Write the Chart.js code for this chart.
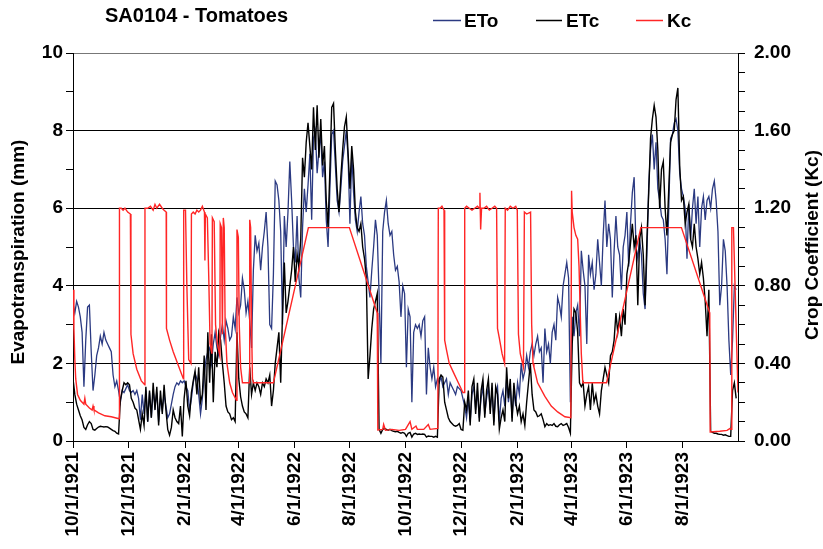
<!DOCTYPE html>
<html><head><meta charset="utf-8">
<script src="https://cdn.jsdelivr.net/npm/chart.js@4.4.0/dist/chart.umd.min.js"></script>
<style>html,body{margin:0;padding:0;background:#fff;}canvas{display:block;}</style>
</head><body>
<canvas id="c" width="823" height="549"></canvas>
<script>
// ---- data (daily series sampled every 2 days, day 0 = 10/1/1921) ----
const STEP_DAYS = 2;
const chartTitle = 'SA0104 - Tomatoes';
const seriesNames = ['ETo', 'ETc', 'Kc'];
const etoValues = [
3.55,3.3,3.6,3.45,3.2,2.8,1.4,2.6,3.45,3.5,
2.3,1.3,1.7,2.2,2.4,2.7,2.5,2.8,2.6,2.5,
2.4,2.3,1.7,1.4,1.55,1.3,1.0,1.3,1.25,1.35,
1.45,1.3,1.25,1.3,1.2,1.3,1.1,0.55,1.2,0.7,
1.3,0.5,1.25,0.6,1.3,0.9,1.25,0.5,1.1,0.8,
1.2,0.9,0.6,0.7,0.95,1.2,1.4,1.5,1.45,1.55,
1.5,1.55,1.4,1.3,0.8,1.1,1.5,1.75,1.6,1.2,
0.7,1.1,1.7,2.1,2.3,2.4,2.0,2.5,2.8,2.4,
2.2,2.7,3.0,2.6,3.1,2.9,2.6,2.7,3.2,2.9,
3.7,3.3,3.5,4.2,3.9,3.3,3.6,3.1,2.4,4.4,
5.3,4.9,5.1,4.4,5.0,5.4,5.9,5.0,3.0,2.9,
4.3,6.7,6.6,6.2,5.4,3.0,5.8,5.0,5.9,7.2,
6.2,5.0,4.6,5.8,4.2,3.7,5.5,6.5,5.9,6.6,
7.4,5.7,7.8,8.0,6.9,7.5,7.9,6.8,7.2,5.7,
5.0,6.5,7.9,8.0,7.1,6.2,5.9,6.5,7.2,7.6,
8.0,7.3,5.6,7.4,6.4,5.7,5.4,5.9,6.3,5.6,
5.3,4.5,4.1,3.7,4.4,5.0,5.7,5.3,3.8,2.0,
5.4,5.9,6.2,5.6,5.3,5.4,4.8,4.4,4.5,4.1,
3.2,4.0,3.8,1.9,3.4,3.2,1.0,2.8,3.0,2.9,
3.0,2.7,3.1,3.2,1.2,2.4,1.9,1.6,1.9,1.4,
1.6,1.5,1.65,1.4,1.5,1.6,1.2,1.5,1.4,1.3,
1.2,1.4,1.35,1.3,1.1,0.9,0.6,1.1,0.5,1.2,
1.4,0.8,1.3,0.6,1.1,1.4,0.7,1.1,1.4,0.8,
1.3,0.5,1.2,1.4,0.5,1.1,1.3,0.9,1.6,1.0,
1.4,0.6,1.3,0.9,1.5,1.2,2.0,1.6,1.8,2.2,
1.9,2.3,2.5,2.2,2.5,2.7,2.3,2.4,1.5,2.9,
2.3,2.5,2.0,2.8,3.0,2.6,3.7,3.5,3.2,4.0,
4.3,4.6,4.2,1.0,3.2,2.7,3.3,3.5,2.7,4.9,
4.4,4.0,2.5,4.8,4.3,4.6,3.9,4.3,5.2,4.6,
4.0,5.3,6.2,5.0,5.6,5.2,3.7,4.9,5.8,5.0,
4.8,3.9,5.0,5.3,5.9,4.5,5.6,6.4,6.8,5.0,
4.7,5.2,4.8,3.8,3.4,4.8,6.6,7.5,7.9,7.0,
7.7,6.5,6.2,5.8,5.7,5.2,4.3,6.0,7.8,7.9,
8.2,8.3,8.0,6.9,6.5,6.3,6.0,4.7,6.1,5.2,
6.0,6.5,5.6,6.3,5.0,6.0,6.3,5.7,6.2,6.3,
6.0,6.5,6.7,6.2,5.4,3.5,4.0,5.2,4.9,4.0,
2.6,1.7,2.6,4.0,3.9
];
const etcValues = [
1.6,1.2,0.95,0.8,0.65,0.54,0.35,0.3,0.42,0.5,
0.45,0.3,0.28,0.32,0.36,0.38,0.37,0.36,0.37,0.36,
0.33,0.3,0.27,0.25,0.2,0.18,1.06,1.3,1.5,1.45,
1.5,1.45,1.1,1.0,0.85,0.8,0.55,0.3,0.7,0.4,
1.4,0.5,1.3,0.6,1.5,0.8,1.4,0.4,1.3,0.7,
1.45,0.8,0.3,0.15,0.35,0.8,0.6,0.5,0.45,0.9,
0.12,1.1,1.55,0.9,0.65,1.25,1.55,1.8,1.2,1.9,
1.0,1.2,2.2,0.8,2.8,1.5,2.75,1.0,2.3,1.9,
2.8,2.6,2.0,1.5,0.9,0.75,0.7,0.55,0.6,0.5,
2.8,1.6,1.14,0.9,0.75,0.7,0.6,1.9,1.2,1.5,
1.3,1.5,1.4,1.2,1.5,1.4,1.6,1.5,1.7,0.9,
1.3,2.0,2.4,2.8,1.5,3.3,4.6,3.3,3.6,4.0,
4.4,5.0,4.1,4.8,4.5,5.2,7.3,6.8,7.7,8.2,
7.6,7.0,8.6,7.5,8.65,7.3,8.3,7.1,7.6,6.2,
5.5,7.0,8.6,8.7,7.5,6.5,5.9,6.8,7.5,8.1,
8.35,7.4,6.5,7.6,7.0,5.9,5.5,5.4,5.6,5.0,
4.7,4.2,1.6,2.2,2.9,3.4,3.6,3.8,0.3,0.2,
0.3,0.32,0.3,0.28,0.3,0.27,0.25,0.24,0.25,0.22,
0.2,0.22,0.2,0.12,0.2,0.22,0.1,0.18,0.2,0.17,
0.18,0.17,0.18,0.17,0.1,0.13,0.12,0.12,0.1,0.12,
0.1,1.6,1.7,1.65,1.0,0.8,0.6,0.5,0.45,0.4,
0.38,0.4,0.45,0.3,0.28,1.0,0.8,1.3,0.4,1.4,
1.6,0.7,1.5,0.5,1.3,1.6,0.6,1.3,1.6,0.7,
1.5,0.4,1.4,1.2,0.3,0.6,0.8,0.5,1.9,1.1,
1.6,0.5,1.5,1.0,0.7,0.9,0.5,0.7,0.4,1.0,
1.5,2.0,1.2,0.8,0.75,0.63,0.65,0.7,0.55,0.37,
0.45,0.4,0.42,0.4,0.45,0.38,0.37,0.42,0.45,0.4,
0.42,0.45,0.35,0.2,2.5,3.4,3.3,2.8,1.5,1.4,
1.5,0.9,1.2,1.4,0.8,1.5,1.0,1.2,0.9,0.7,
1.3,1.6,1.9,1.7,1.5,2.2,2.3,2.6,3.3,2.8,
3.2,2.7,3.4,3.0,4.3,4.6,5.1,5.6,5.0,5.3,
3.5,5.2,5.5,4.8,3.5,5.2,6.4,7.8,8.3,8.65,
8.35,7.5,6.0,7.0,7.2,6.0,5.3,6.5,7.7,7.9,
8.0,8.8,9.1,7.1,6.2,6.3,5.6,5.9,6.1,5.2,
5.0,5.6,5.0,4.7,4.3,4.6,4.2,3.6,2.7,3.9,
0.25,0.22,0.2,0.2,0.18,0.17,0.17,0.15,0.16,0.14,
0.12,0.12,1.3,1.5,1.1
];
const kcDays = [
0,1,2,3,5,8,12,13,14,18,21,22,23,28,35,42,50.5,
51,53,55,57,60,63,63.6,66,70,75,78.8,
79,82,85,88,90,92,95,98,100,102.3,102.6,106,110,114,118,121.2,
121.5,123.5,125,127,129.5,130,132,134,136,138,140,142,144.3,144.8,145.3,147.5,149,150.5,152.5,
153,155,156.5,158.5,161.2,161.6,163,164,165,166,167,169,172,175,179.5,
180,181.5,182.5,184,186,193.5,194,195,196,197,198,220,258.4,303.4,334,
334.6,340,341,343,350,358,365,370,372,376.5,378,385,390,392,400.5,
401,403,405,407.3,408,410,413,418,423,428,429.5,
430,432,435,438,441,444,446,446.7,447.5,448.5,451,454,457,460,463,465,466,468,471,473.8,
474.5,477,480,483,486,487.7,489,491,494.5,495.5,498,502.3,503.5,505,506,510,518,525,532,540,546.5,
547.3,548,550,552,554,555.5,558,559.7,585.7,623.3,667.9,699,
699.5,710,718,721,722.5,723.2,725,730
];
const kcValues = [
0.78,0.58,0.42,0.32,0.24,0.21,0.19,0.22,0.19,0.17,0.16,0.18,0.16,0.145,0.13,0.125,0.115,
1.2,1.2,1.19,1.2,1.18,1.17,0.55,0.45,0.37,0.31,0.29,
1.2,1.2,1.21,1.19,1.22,1.2,1.22,1.2,1.19,1.18,0.58,0.52,0.46,0.41,0.36,0.32,
1.19,1.19,0.8,0.42,0.4,1.17,1.18,1.17,1.19,1.18,1.19,1.21,1.18,0.93,1.17,1.15,0.85,0.5,0.45,
1.15,1.13,0.6,0.5,0.44,1.12,1.1,0.55,1.15,1.1,0.6,0.4,0.3,0.25,0.21,
1.09,1.05,0.6,0.38,0.3,0.3,1.14,1.1,0.6,0.32,0.3,0.3,1.1,1.1,0.66,
0.057,0.06,0.085,0.055,0.06,0.055,0.06,0.1,0.06,0.077,0.06,0.06,0.085,0.06,0.065,
1.2,1.2,1.21,1.19,0.52,0.47,0.4,0.35,0.3,0.25,0.25,
1.2,1.21,1.2,1.19,1.2,1.21,1.2,1.28,1.09,1.2,1.2,1.21,1.19,1.2,1.21,1.2,0.58,0.53,0.45,0.4,
1.2,1.19,1.21,1.2,1.21,1.19,0.55,0.45,0.38,1.18,1.17,1.18,0.6,0.4,0.38,0.3,0.23,0.18,0.15,0.125,0.12,
1.29,1.18,1.1,1.06,1.04,0.9,0.45,0.3,0.3,1.1,1.1,0.66,
0.047,0.05,0.055,0.064,0.06,1.1,1.1,0.25
];
const dateTickDays = [0,61,123,182,243,304,365,426,488,547,608,669];
const dateTickLabels = ['10/1/1921','12/1/1921','2/1/1922','4/1/1922','6/1/1922','8/1/1922',
                        '10/1/1922','12/1/1922','2/1/1923','4/1/1923','6/1/1923','8/1/1923'];
const etTicks = [0,1,2,3,4,5,6,7,8,9,10];
const kcTicks = [0,0.1,0.2,0.3,0.4,0.5,0.6,0.7,0.8,0.9,1.0,1.1,1.2,1.3,1.4,1.5,1.6,1.7,1.8,1.9,2.0];
const kcLabelledTicks = [0,0.4,0.8,1.2,1.6,2.0];
const leftAxisTitle = 'Evapotranspiration (mm)';
const rightAxisTitle = 'Crop Coefficient (Kc)';

// ---- styles ----
const FONT_FAMILY = '"Liberation Sans", Arial, Helvetica, sans-serif';
const COL_ETO = '#2b3a82';
const COL_ETC = '#000000';
const COL_KC = '#ff2626';
const tickFont = {family: FONT_FAMILY, size: 19, weight: 'bold'};

const decor = {
  id: 'decor',
  afterDraw(chart) {
    const ctx = chart.ctx;
    ctx.save();
    ctx.fillStyle = '#000';
    ctx.textAlign = 'left';
    ctx.textBaseline = 'alphabetic';
    ctx.font = 'bold 20px ' + FONT_FAMILY;
    ctx.fillText(chartTitle, 105, 22);
    // legend
    ctx.font = 'bold 19px ' + FONT_FAMILY;
    const items = [
      {name: seriesNames[0], color: COL_ETO, x0: 433, x1: 461, tx: 464},
      {name: seriesNames[1], color: COL_ETC, x0: 536, x1: 562, tx: 566},
      {name: seriesNames[2], color: COL_KC, x0: 636, x1: 663, tx: 667}
    ];
    items.forEach(it => {
      ctx.strokeStyle = it.color;
      ctx.lineWidth = 1.5;
      ctx.beginPath();
      ctx.moveTo(it.x0, 20.5);
      ctx.lineTo(it.x1, 20.5);
      ctx.stroke();
      ctx.fillText(it.name, it.tx, 27);
    });
    // axis titles
    ctx.textAlign = 'center';
    ctx.textBaseline = 'middle';
    ctx.save();
    ctx.translate(19, 252);
    ctx.rotate(-Math.PI / 2);
    ctx.fillText(leftAxisTitle, 0, 0);
    ctx.restore();
    ctx.save();
    ctx.translate(813, 245);
    ctx.rotate(-Math.PI / 2);
    ctx.fillText(rightAxisTitle, 0, 0);
    ctx.restore();
    ctx.restore();
  }
};

const toPoints = (vals) => vals.map((v, i) => ({x: i * STEP_DAYS, y: v}));
const kcPoints = kcDays.map((d, i) => ({x: d, y: kcValues[i]}));

new Chart(document.getElementById('c'), {
  type: 'line',
  data: {
    datasets: [
      {label: 'Kc', data: kcPoints, yAxisID: 'y2', borderColor: COL_KC, borderWidth: 1.4, pointRadius: 0, tension: 0},
      {label: 'ETc', data: toPoints(etcValues), yAxisID: 'y', borderColor: COL_ETC, borderWidth: 1.4, pointRadius: 0, tension: 0},
      {label: 'ETo', data: toPoints(etoValues), yAxisID: 'y', borderColor: COL_ETO, borderWidth: 1.3, pointRadius: 0, tension: 0}
    ]
  },
  options: {
    responsive: false,
    animation: false,
    devicePixelRatio: 1,
    layout: {padding: {top: 53, left: 0, right: 0, bottom: 0}},
    plugins: {legend: {display: false}, tooltip: {enabled: false}, title: {display: false}},
    scales: {
      x: {
        type: 'linear', min: 0, max: 730, position: 'bottom',
        afterBuildTicks: s => { s.ticks = dateTickDays.map(v => ({value: v})); },
        afterFit: s => { s.height = 108; },
        ticks: {
          autoSkip: false, minRotation: 90, maxRotation: 90, padding: 4,
          color: '#000', font: tickFont,
          callback: v => { const i = dateTickDays.indexOf(v); return i >= 0 ? dateTickLabels[i] : ''; }
        },
        grid: {drawOnChartArea: false, drawTicks: true, tickLength: 7, tickColor: '#000', tickWidth: 1},
        border: {display: true, color: '#000', width: 1}
      },
      y: {
        type: 'linear', position: 'left', min: 0, max: 10,
        afterBuildTicks: s => { s.ticks = etTicks.map(v => ({value: v})); },
        afterFit: s => { s.width = 73; },
        ticks: {
          autoSkip: false, padding: 3, color: '#000', font: tickFont,
          callback: v => (v % 2 === 0 ? String(v) : '')
        },
        grid: {
          drawTicks: true, tickLength: 7, tickColor: '#000', lineWidth: 1,
          color: c => (c.tick && c.tick.value % 2 === 0) ? (c.tick.value === 10 ? '#777' : '#000') : 'rgba(0,0,0,0)'
        },
        border: {display: true, color: '#000', width: 1}
      },
      y2: {
        type: 'linear', position: 'right', min: 0, max: 2,
        afterBuildTicks: s => { s.ticks = kcTicks.map(v => ({value: v})); },
        afterFit: s => { s.width = 85; },
        ticks: {
          autoSkip: false, padding: 9, color: '#000', font: tickFont,
          callback: v => (kcLabelledTicks.some(t => Math.abs(t - v) < 1e-6) ? v.toFixed(2) : '')
        },
        grid: {drawOnChartArea: false, drawTicks: true, tickLength: 7, tickColor: '#000'},
        border: {display: true, color: '#000', width: 1}
      }
    }
  },
  plugins: [decor]
});
</script>
</body></html>
